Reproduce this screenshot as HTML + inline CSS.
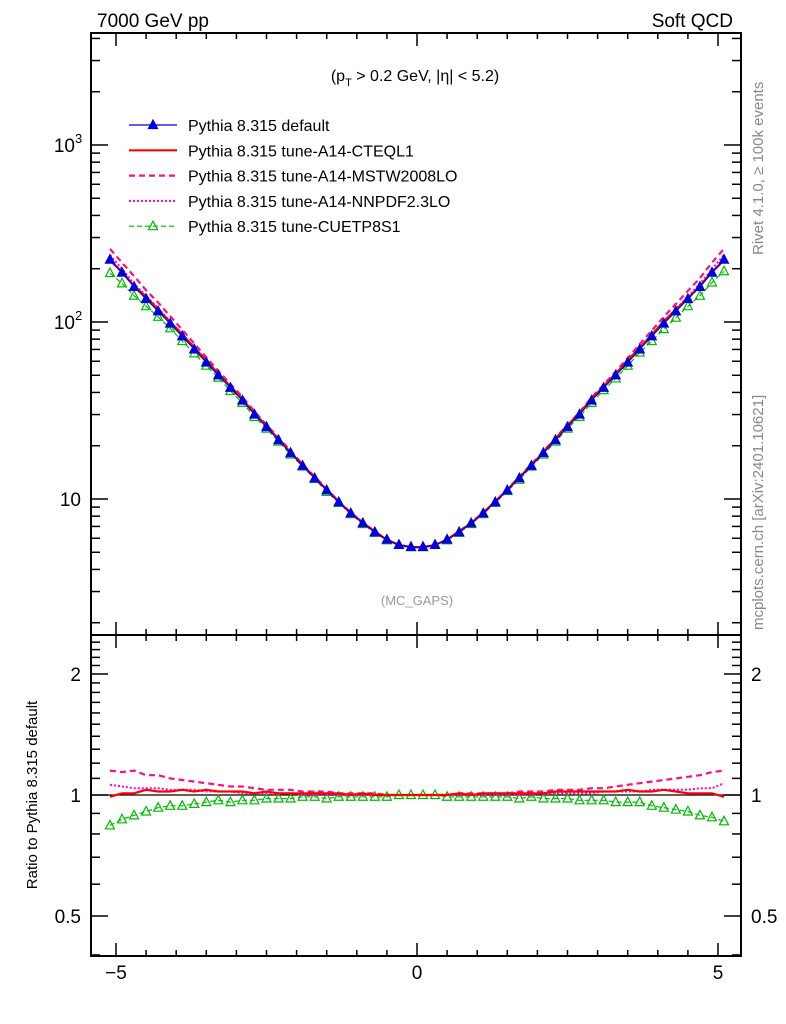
<!DOCTYPE html>
<html><head><meta charset="utf-8">
<style>
html,body{margin:0;padding:0;background:#fff;}
svg{display:block;font-family:"Liberation Sans",sans-serif;}
</style></head>
<body>
<svg id="chart" width="786" height="1024" viewBox="0 0 786 1024" xmlns="http://www.w3.org/2000/svg">
<text x="97" y="27" font-size="19">7000 GeV pp</text>
<text x="733" y="27" font-size="19" text-anchor="end">Soft QCD</text>
<text x="415" y="81" font-size="16" text-anchor="middle">(p<tspan font-size="11" dy="5">T</tspan><tspan dy="-5"> &gt; 0.2 GeV, |η| &lt; 5.2)</tspan></text>
<text x="417" y="605" font-size="13" fill="#999" text-anchor="middle">(MC_GAPS)</text>
<text transform="translate(763,255) rotate(-90)" font-size="15" fill="#888">Rivet 4.1.0, ≥ 100k events</text>
<text transform="translate(763,630) rotate(-90)" font-size="15" fill="#888">mcplots.cern.ch [arXiv:2401.10621]</text>
<text transform="translate(37,795) rotate(-90)" font-size="15" text-anchor="middle">Ratio to Pythia 8.315 default</text>
<g id="gMain"></g>
<g id="gRatio"></g>
<g id="gLegend"></g>
<g id="gFrames"></g>
</svg>
<script>
var etaCenters=[-5.1,-4.9,-4.7,-4.5,-4.3,-4.1,-3.9,-3.7,-3.5,-3.3,-3.1,-2.9,-2.7,-2.5,-2.3,-2.1,-1.9,-1.7,-1.5,-1.3,-1.1,-0.9,-0.7,-0.5,-0.3,-0.1,0.1,0.3,0.5,0.7,0.9,1.1,1.3,1.5,1.7,1.9,2.1,2.3,2.5,2.7,2.9,3.1,3.3,3.5,3.7,3.9,4.1,4.3,4.5,4.7,4.9,5.1];
var defaultVals=[225,190,158,135,115,98,83,70,59,50,42.5,36,30,25.5,21.5,18.2,15.4,13.1,11.2,9.6,8.3,7.3,6.5,5.9,5.5,5.35,5.35,5.5,5.9,6.5,7.3,8.3,9.6,11.2,13.1,15.4,18.2,21.5,25.5,30,36,42.5,50,59,70,83,98,115,135,158,190,225];
var ratioCTEQ=[0.99,1.01,1.01,1.03,1.02,1.02,1.03,1.02,1.03,1.02,1.02,1.02,1.01,1.02,1.01,1.01,1.01,1.01,1.01,1.01,1.0,1.01,1.0,1.0,1.0,1.0,1.0,1.0,1.0,1.01,1.0,1.01,1.01,1.01,1.01,1.01,1.01,1.02,1.02,1.02,1.02,1.02,1.02,1.03,1.02,1.02,1.03,1.02,1.01,1.01,1.01,0.99];
var ratioMSTW=[1.15,1.14,1.15,1.12,1.12,1.10,1.09,1.08,1.07,1.06,1.05,1.05,1.04,1.03,1.03,1.03,1.02,1.02,1.02,1.01,1.01,1.01,1.01,1.0,1.0,1.0,1.0,1.0,1.0,1.01,1.01,1.01,1.01,1.01,1.02,1.02,1.02,1.03,1.03,1.03,1.04,1.04,1.05,1.06,1.07,1.08,1.09,1.10,1.11,1.12,1.14,1.15];
var ratioNNPDF=[1.06,1.05,1.04,1.04,1.04,1.03,1.03,1.03,1.02,1.02,1.02,1.01,1.01,1.01,1.01,1.01,1.0,1.0,1.0,1.0,1.0,1.0,1.0,1.0,1.0,1.0,1.0,1.0,1.0,1.0,1.0,1.0,1.0,1.0,1.0,1.0,1.01,1.01,1.01,1.01,1.01,1.02,1.02,1.02,1.02,1.03,1.03,1.03,1.03,1.04,1.04,1.07];
var ratioCUETP=[0.84,0.87,0.89,0.91,0.93,0.94,0.94,0.95,0.96,0.97,0.96,0.97,0.97,0.98,0.98,0.98,0.99,0.99,0.98,0.99,0.99,0.99,0.99,0.99,1.0,1.0,1.0,1.0,0.99,0.99,0.99,0.99,0.99,0.99,0.98,0.99,0.98,0.98,0.98,0.97,0.97,0.97,0.96,0.96,0.96,0.94,0.93,0.92,0.91,0.89,0.88,0.86];
var xTicksMajor=[-5,0,5];
var mainYDecades=[10,100,1000];
var ratioYLabels=[0.5,1,2];
var legendNames=['Pythia 8.315 default','Pythia 8.315 tune-A14-CTEQL1','Pythia 8.315 tune-A14-MSTW2008LO','Pythia 8.315 tune-A14-NNPDF2.3LO','Pythia 8.315 tune-CUETP8S1'];

var SVGNS="http://www.w3.org/2000/svg";
var PL=91,PR=741,MT=33,MB=635,RT=635,RB=956;
function xS(v){return 417+v*60.2;}
function yMain(v){return 499-(Math.log(v)/Math.LN10-1)*177;}
function yRat(v){return 795-(Math.log(v)/Math.LN2)*121;}
function mk(tag,attrs,parent){var e=document.createElementNS(SVGNS,tag);for(var k in attrs){if(attrs.hasOwnProperty(k))e.setAttribute(k,String(attrs[k]));}parent.appendChild(e);return e;}
function hasV(arr,v){for(var i=0;i<arr.length;i++){if(Math.abs(arr[i]-v)<1e-9)return true;}return false;}
function tri(g,x,y,c,filled,nm){
 var p=mk('path',{d:'M'+x+','+(y-5)+'L'+(x+4.5)+','+(y+3.5)+'L'+(x-4.5)+','+(y+3.5)+'Z',fill:filled?c:'none',stroke:c,'stroke-width':1.2},g);
 
 
}
function drawSeries(g,yf,vals,s,key){
 var pts=[];
 for(var i=0;i<etaCenters.length;i++){pts.push(xS(etaCenters[i]).toFixed(1)+','+yf(vals[i]).toFixed(1));}
 var pl=mk('polyline',{points:pts.join(' '),fill:'none',stroke:s.color,'stroke-width':s.w,'stroke-dasharray':s.dash},g);
 
 
 if(s.marker){for(var j=0;j<etaCenters.length;j++){tri(g,xS(etaCenters[j]),yf(vals[j]),s.color,s.marker==='filled',key+'-marker-'+s.name);}}
}
function renderChart(){
 var gM=document.getElementById('gMain'),gR=document.getElementById('gRatio'),gF=document.getElementById('gFrames'),gL=document.getElementById('gLegend');
 var series=[
  {name:'default',color:'#0000dd',w:1.2,dash:'none',marker:'filled',r:null},
  {name:'cteql1',color:'#ff0000',w:2.2,dash:'none',marker:null,r:ratioCTEQ},
  {name:'mstw2008lo',color:'#ff1080',w:2.2,dash:'6,4',marker:null,r:ratioMSTW},
  {name:'nnpdf23lo',color:'#ff00dd',w:2,dash:'2,2',marker:null,r:ratioNNPDF},
  {name:'cuetp8s1',color:'#00bb00',w:1.2,dash:'5,3',marker:'open',r:ratioCUETP}
 ];
 var rl=mk('line',{x1:PL,x2:PR,y1:yRat(1),y2:yRat(1),stroke:'#000','stroke-width':1.2},gR);
 
 
 var order=[4,3,2,1,0];
 for(var o=0;o<order.length;o++){
  var s=series[order[o]];
  var mv=[];
  for(var i=0;i<defaultVals.length;i++){mv.push(s.r?defaultVals[i]*s.r[i]:defaultVals[i]);}
  drawSeries(gM,yMain,mv,s,'main');
  if(s.r)drawSeries(gR,yRat,s.r,s,'ratio');
 }
 var fr1=mk('rect',{x:PL,y:MT,width:PR-PL,height:MB-MT,fill:'none',stroke:'#000','stroke-width':2},gF);
 
 
 var fr2=mk('rect',{x:PL,y:RT,width:PR-PL,height:RB-RT,fill:'none',stroke:'#000','stroke-width':2},gF);
 
 
 function tk(x1,y1,x2,y2){mk('line',{x1:x1,y1:y1,x2:x2,y2:y2,stroke:'#000','stroke-width':1.5},gF);}
 for(var k=-10;k<=10;k++){
  var v=k*0.5,x=xS(v);if(x<PL||x>PR)continue;
  var len=hasV(xTicksMajor,v)?13:6;
  tk(x,MT,x,MT+len);tk(x,MB,x,MB-len);tk(x,RT,x,RT+len);tk(x,RB,x,RB-len);
 }
 for(var a=0;a<xTicksMajor.length;a++){
  var xv=xTicksMajor[a];
  var t=mk('text',{x:xS(xv),y:RB+23,'font-size':19,'text-anchor':'middle'},gF);
  t.textContent=xv<0?'\u2212'+(-xv):String(xv);
  
  
 }
 for(var d=0;d<=3;d++){for(var m=1;m<10;m++){var mvv=m*Math.pow(10,d),y=yMain(mvv);if(y<MT||y>MB)continue;var ln2=m===1?17:9;tk(PL,y,PL+ln2,y);tk(PR,y,PR-ln2,y);}}
 for(var b=0;b<mainYDecades.length;b++){
  var dv=mainYDecades[b];
  var ex=Math.round(Math.log(dv)/Math.LN10);
  var tt=mk('text',{x:ex===1?PL-10:PL-16,y:yMain(dv)+7,'font-size':19,'text-anchor':'end'},gF);
  tt.textContent='10';
  
  
  if(ex!==1){
   var te=mk('text',{x:PL-16,y:yMain(dv)-2,'font-size':13,'text-anchor':'start'},gF);
   te.textContent=String(ex);
   
   
  }
 }
 var rTicks=[0.4,0.5,0.6,0.7,0.8,0.9,1,1.1,1.2,1.3,1.4,1.5,1.6,1.7,1.8,1.9,2,2.1,2.2,2.3,2.4,2.5];
 for(var c=0;c<rTicks.length;c++){var yy=yRat(rTicks[c]);if(yy<RT||yy>RB)continue;var l3=hasV(ratioYLabels,rTicks[c])?17:9;tk(PL,yy,PL+l3,yy);tk(PR,yy,PR-l3,yy);}
 for(var e=0;e<ratioYLabels.length;e++){
  var rv=ratioYLabels[e];
  var t1=mk('text',{x:PL-10,y:yRat(rv)+7,'font-size':19,'text-anchor':'end'},gF);
  t1.textContent=String(rv);
  
  
  var t2=mk('text',{x:PR+10,y:yRat(rv)+7,'font-size':19,'text-anchor':'start'},gF);
  t2.textContent=String(rv);
  
  
 }
 for(var q=0;q<series.length;q++){
  var sq=series[q],ly=125+q*25.3;
  var sw=mk('line',{x1:129,x2:177,y1:ly,y2:ly,stroke:sq.color,'stroke-width':sq.w,'stroke-dasharray':sq.dash},gL);
  
  
  if(sq.marker)tri(gL,153,ly,sq.color,sq.marker==='filled','legend-marker-'+sq.name);
  var lt=mk('text',{x:188,y:ly+6,'font-size':16},gL);
  lt.textContent=legendNames[q];
  
  
 }
}
renderChart();
</script>
</body></html>
